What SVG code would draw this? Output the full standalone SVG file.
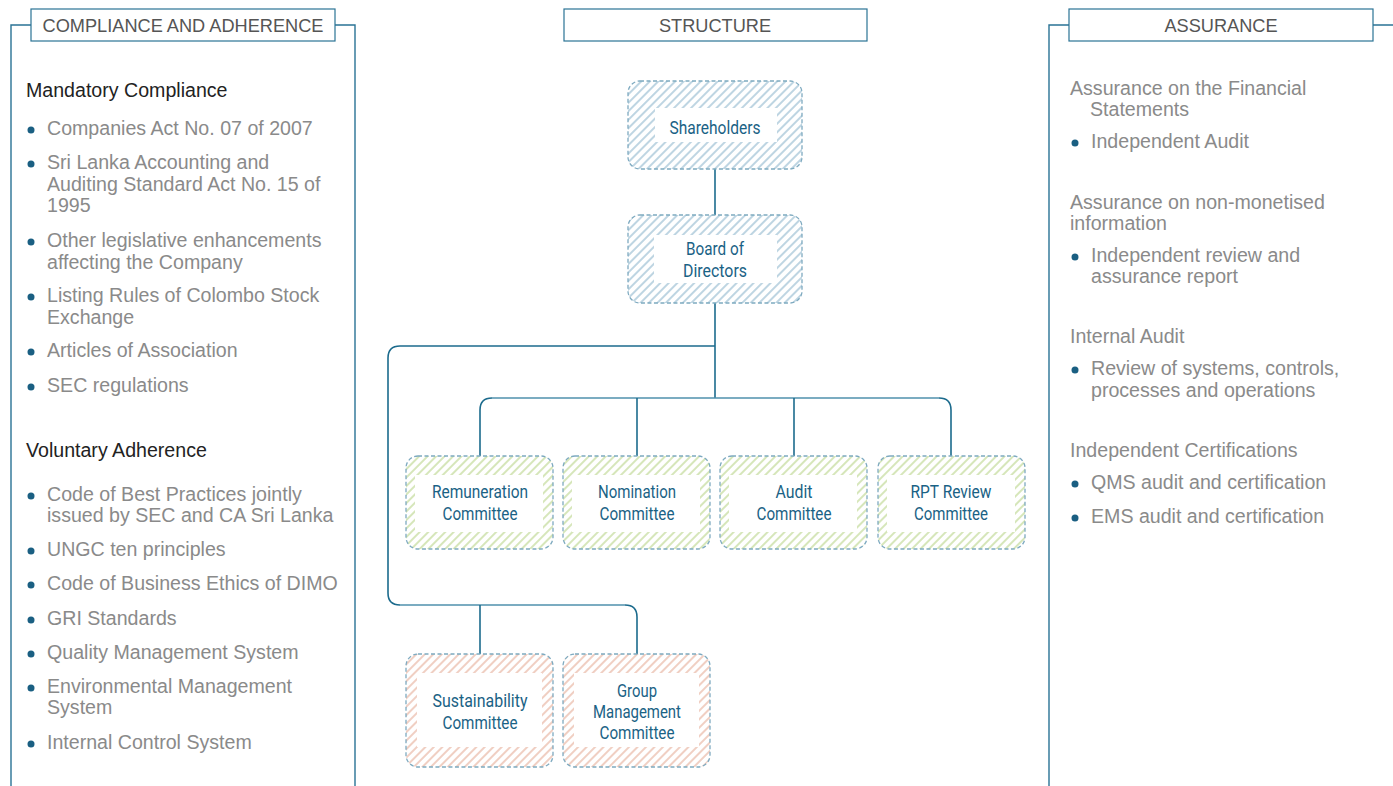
<svg xmlns="http://www.w3.org/2000/svg" width="1393" height="786" viewBox="0 0 1393 786">
<style>
.frame{fill:none;stroke:#2a7395;stroke-width:1.4}
.tbox{fill:#fff;stroke:#2a7395;stroke-width:1.2}
.title{font-family:"Liberation Sans",Arial,sans-serif;font-size:18.2px;fill:#555;text-anchor:middle}
.head{font-family:"Liberation Sans",Arial,sans-serif;font-size:19.6px;fill:#222}
.item{font-family:"Liberation Sans",Arial,sans-serif;font-size:19.6px;fill:#8a8a8a}
.dot{fill:#1a5f82}
.node{stroke:#7eaac0;stroke-width:1.3;stroke-dasharray:4 2.5}
.inner{fill:#fff}
.lbl{font-family:Roboto,"Liberation Sans",sans-serif;font-size:19px;fill:#1a6285;text-anchor:middle}
.conn{fill:none;stroke:#1c6b8d;stroke-width:1.6}
.conn2{fill:none;stroke:#4f91ac;stroke-width:1.6}
</style>
<defs>
<pattern id="hb" width="6" height="6" patternUnits="userSpaceOnUse" patternTransform="rotate(45)">
<rect width="6" height="6" fill="#fff"/><line x1="1" y1="0" x2="1" y2="6" stroke="#b3cedd" stroke-width="1.7"/></pattern>
<pattern id="hg" width="6" height="6" patternUnits="userSpaceOnUse" patternTransform="rotate(45)">
<rect width="6" height="6" fill="#fff"/><line x1="1" y1="0" x2="1" y2="6" stroke="#cfe2ae" stroke-width="1.7"/></pattern>
<pattern id="hp" width="6" height="6" patternUnits="userSpaceOnUse" patternTransform="rotate(45)">
<rect width="6" height="6" fill="#fff"/><line x1="1" y1="0" x2="1" y2="6" stroke="#eec7b8" stroke-width="1.7"/></pattern>
</defs>
<rect width="1393" height="786" fill="#fff"/>

<g id="panel-left">
<path class="frame" d="M11,786 V25 H31 M335,25 H355 V786"/>
<rect class="tbox" x="31" y="9" width="304" height="32"/>
<text class="title" x="183" y="32">COMPLIANCE AND ADHERENCE</text>
<text class="head" x="26" y="97">Mandatory Compliance</text>
<g class="dot">
<circle cx="31" cy="130" r="3.5"/><circle cx="31" cy="164" r="3.5"/><circle cx="31" cy="242" r="3.5"/><circle cx="31" cy="297" r="3.5"/><circle cx="31" cy="352" r="3.5"/><circle cx="31" cy="387" r="3.5"/>
<circle cx="31" cy="496" r="3.5"/><circle cx="31" cy="551" r="3.5"/><circle cx="31" cy="585" r="3.5"/><circle cx="31" cy="620" r="3.5"/><circle cx="31" cy="654" r="3.5"/><circle cx="31" cy="688" r="3.5"/><circle cx="31" cy="744" r="3.5"/>
</g>
<text class="item" x="47" y="135">Companies Act No. 07 of 2007</text>
<text class="item" x="47" y="169">Sri Lanka Accounting and</text>
<text class="item" x="47" y="191">Auditing Standard Act No. 15 of</text>
<text class="item" x="47" y="212">1995</text>
<text class="item" x="47" y="247">Other legislative enhancements</text>
<text class="item" x="47" y="269">affecting the Company</text>
<text class="item" x="47" y="302">Listing Rules of Colombo Stock</text>
<text class="item" x="47" y="324">Exchange</text>
<text class="item" x="47" y="357">Articles of Association</text>
<text class="item" x="47" y="392">SEC regulations</text>
<text class="head" x="26" y="457">Voluntary Adherence</text>
<text class="item" x="47" y="501">Code of Best Practices jointly</text>
<text class="item" x="47" y="522">issued by SEC and CA Sri Lanka</text>
<text class="item" x="47" y="556">UNGC ten principles</text>
<text class="item" x="47" y="590">Code of Business Ethics of DIMO</text>
<text class="item" x="47" y="625">GRI Standards</text>
<text class="item" x="47" y="659">Quality Management System</text>
<text class="item" x="47" y="693">Environmental Management</text>
<text class="item" x="47" y="714">System</text>
<text class="item" x="47" y="749">Internal Control System</text>
</g>

<g id="panel-structure">
<rect class="tbox" x="564" y="9" width="303" height="32"/>
<text class="title" x="715" y="32">STRUCTURE</text>
</g>

<g id="panel-right">
<path class="frame" d="M1049,786 V25 H1069 M1373,25 H1393"/>
<rect class="tbox" x="1069" y="9" width="304" height="32"/>
<text class="title" x="1221" y="32">ASSURANCE</text>
<g class="dot">
<circle cx="1075" cy="143" r="3.5"/><circle cx="1075" cy="257" r="3.5"/><circle cx="1075" cy="370" r="3.5"/><circle cx="1075" cy="484" r="3.5"/><circle cx="1075" cy="518" r="3.5"/>
</g>
<text class="item" x="1070" y="95">Assurance on the Financial</text>
<text class="item" x="1090" y="116">Statements</text>
<text class="item" x="1091" y="148">Independent Audit</text>
<text class="item" x="1070" y="209">Assurance on non-monetised</text>
<text class="item" x="1070" y="230">information</text>
<text class="item" x="1091" y="262">Independent review and</text>
<text class="item" x="1091" y="283">assurance report</text>
<text class="item" x="1070" y="343">Internal Audit</text>
<text class="item" x="1091" y="375">Review of systems, controls,</text>
<text class="item" x="1091" y="397">processes and operations</text>
<text class="item" x="1070" y="457">Independent Certifications</text>
<text class="item" x="1091" y="489">QMS audit and certification</text>
<text class="item" x="1091" y="523">EMS audit and certification</text>
</g>

<g id="connectors">
<path class="conn" d="M715,169 V215"/>
<path class="conn" d="M715,303 V398"/>
<path class="conn" d="M715,346 H400 Q388,346 388,358 V593 Q388,605 400,605"/>
<path class="conn2" d="M400,605 H625"/>
<path class="conn" d="M625,605 Q637,605 637,617 V654"/>
<path class="conn" d="M480,605 V654"/>
<path class="conn" d="M480,456 V410 Q480,398 492,398"/>
<path class="conn2" d="M492,398 H939"/>
<path class="conn" d="M939,398 Q951,398 951,410 V456"/>
<path class="conn" d="M637,398 V456"/>
<path class="conn" d="M794,398 V456"/>
</g>

<g id="n-shareholders">
<rect class="node" x="628" y="81" width="174" height="88" rx="12" fill="url(#hb)"/>
<rect class="inner" x="655" y="108" width="122" height="34"/>
<text class="lbl" x="715" y="134" textLength="91" lengthAdjust="spacingAndGlyphs">Shareholders</text>
</g>
<g id="n-board">
<rect class="node" x="628" y="215" width="174" height="88" rx="12" fill="url(#hb)"/>
<rect class="inner" x="654" y="235" width="123" height="48"/>
<text class="lbl" x="715" y="255" textLength="58" lengthAdjust="spacingAndGlyphs">Board of</text>
<text class="lbl" x="715" y="277" textLength="64" lengthAdjust="spacingAndGlyphs">Directors</text>
</g>
<g id="n-remuneration">
<rect class="node" x="406" y="456" width="147" height="93" rx="12" fill="url(#hg)"/>
<rect class="inner" x="415" y="475" width="128" height="57"/>
<text class="lbl" x="480" y="498" textLength="96" lengthAdjust="spacingAndGlyphs">Remuneration</text>
<text class="lbl" x="480" y="520" textLength="75" lengthAdjust="spacingAndGlyphs">Committee</text>
</g>
<g id="n-nomination">
<rect class="node" x="563" y="456" width="147" height="93" rx="12" fill="url(#hg)"/>
<rect class="inner" x="572" y="475" width="128" height="57"/>
<text class="lbl" x="637" y="498" textLength="78" lengthAdjust="spacingAndGlyphs">Nomination</text>
<text class="lbl" x="637" y="520" textLength="75" lengthAdjust="spacingAndGlyphs">Committee</text>
</g>
<g id="n-audit">
<rect class="node" x="720" y="456" width="147" height="93" rx="12" fill="url(#hg)"/>
<rect class="inner" x="729" y="475" width="128" height="57"/>
<text class="lbl" x="794" y="498" textLength="37" lengthAdjust="spacingAndGlyphs">Audit</text>
<text class="lbl" x="794" y="520" textLength="75" lengthAdjust="spacingAndGlyphs">Committee</text>
</g>
<g id="n-rpt">
<rect class="node" x="878" y="456" width="147" height="93" rx="12" fill="url(#hg)"/>
<rect class="inner" x="887" y="475" width="128" height="57"/>
<text class="lbl" x="951" y="498" textLength="81" lengthAdjust="spacingAndGlyphs">RPT Review</text>
<text class="lbl" x="951" y="520" textLength="74" lengthAdjust="spacingAndGlyphs">Committee</text>
</g>
<g id="n-sustainability">
<rect class="node" x="406" y="654" width="147" height="113" rx="12" fill="url(#hp)"/>
<rect class="inner" x="417" y="673" width="125" height="74"/>
<text class="lbl" x="480" y="707" textLength="95" lengthAdjust="spacingAndGlyphs">Sustainability</text>
<text class="lbl" x="480" y="729" textLength="75" lengthAdjust="spacingAndGlyphs">Committee</text>
</g>
<g id="n-group">
<rect class="node" x="563" y="654" width="147" height="113" rx="12" fill="url(#hp)"/>
<rect class="inner" x="574" y="673" width="125" height="74"/>
<text class="lbl" x="637" y="697" textLength="40" lengthAdjust="spacingAndGlyphs">Group</text>
<text class="lbl" x="637" y="718" textLength="88" lengthAdjust="spacingAndGlyphs">Management</text>
<text class="lbl" x="637" y="739" textLength="75" lengthAdjust="spacingAndGlyphs">Committee</text>
</g>
</svg>
